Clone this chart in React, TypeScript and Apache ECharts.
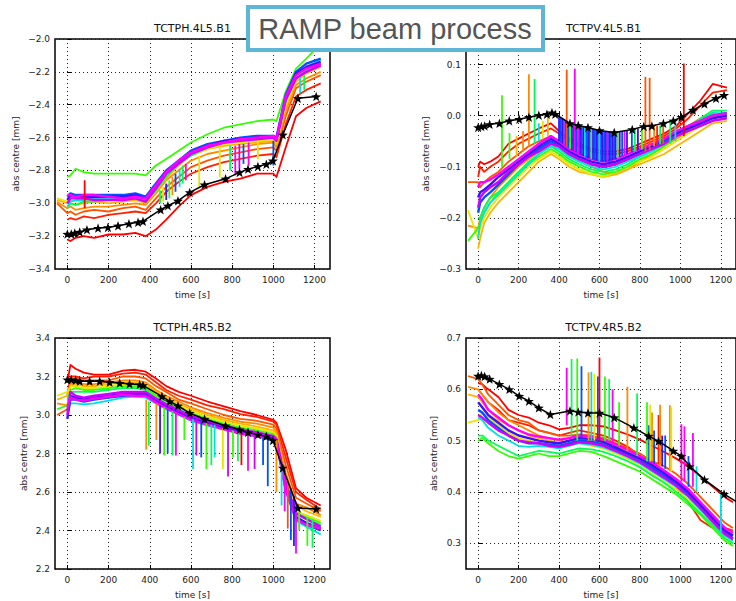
import React, { useEffect, useRef } from 'react';
import * as echarts from 'echarts';

// rainbow palette (red -> magenta), matplotlib gist_rainbow-like
const PALETTE = ['#ff0000', '#ff2200', '#ff5500', '#ff8c00', '#ffb400', '#e6e600', '#33ff00', '#00ff55', '#00e0e0', '#0050ff', '#3a10ff', '#d000ff', '#ff00ff'];

const X_TICKS = [0, 200, 400, 600, 800, 1000, 1200];

// ---------- TCTPH.4L5.B1 ----------
const TIME_H = [-50, 0, 15, 40, 80, 130, 200, 270, 330, 380, 430, 480, 540, 600, 680, 760, 840, 920, 1000, 1015, 1060, 1110, 1160, 1230];
const TL_SERIES: (number | null)[][] = [
  [null, -3.22, -3.23, -3.21, -3.2, -3.21, -3.19, -3.19, -3.18, -3.2, -3.16, -3.1, -3.02, -2.95, -2.9, -2.87, -2.85, -2.82, -2.82, -2.84, -2.66, -2.47, -2.42, -2.38],
  [null, -3.1, -3.09, -3.1, -3.08, -3.09, -3.07, -3.06, -3.05, -3.06, -3.0, -2.93, -2.87, -2.82, -2.78, -2.75, -2.73, -2.71, -2.7, -2.72, -2.52, -2.35, -2.31, -2.27],
  [-3.0, -3.06, -3.05, -3.07, -3.05, -3.04, -3.05, -3.03, -3.02, -3.04, -2.97, -2.9, -2.84, -2.78, -2.74, -2.71, -2.69, -2.67, -2.66, -2.68, -2.47, -2.3, -2.26, -2.22],
  [-2.99, -3.03, -3.02, -3.04, -3.03, -3.02, -3.02, -3.01, -3.0, -3.01, -2.94, -2.86, -2.8, -2.74, -2.7, -2.68, -2.66, -2.64, -2.63, -2.66, -2.44, -2.28, -2.24, -2.2],
  [-2.98, -3.0, -3.0, -3.01, -3.0, -2.99, -3.0, -2.99, -2.98, -3.0, -2.93, -2.85, -2.77, -2.71, -2.67, -2.65, -2.64, -2.63, -2.62, -2.64, -2.42, -2.26, -2.21, -2.17],
  [-2.97, -2.99, -2.98, -2.99, -2.98, -2.98, -2.98, -2.97, -2.97, -2.98, -2.91, -2.83, -2.76, -2.7, -2.67, -2.64, -2.63, -2.62, -2.61, -2.63, -2.4, -2.25, -2.2, -2.16],
  [null, -2.84, -2.83, -2.79, -2.81, -2.82, -2.82, -2.82, -2.82, -2.83, -2.77, -2.73, -2.68, -2.63, -2.58, -2.54, -2.52, -2.5, -2.49, -2.5, -2.32, -2.18, -2.12, -2.03],
  [null, -3.03, -3.0, -3.01, -2.99, -2.99, -2.98, -2.98, -2.97, -2.99, -2.92, -2.84, -2.76, -2.71, -2.66, -2.63, -2.62, -2.61, -2.6, -2.62, -2.38, -2.24, -2.19, -2.15],
  [null, -3.02, -2.99, -2.98, -2.98, -2.97, -2.97, -2.97, -2.96, -2.98, -2.9, -2.82, -2.75, -2.7, -2.66, -2.63, -2.61, -2.6, -2.6, -2.61, -2.36, -2.22, -2.17, -2.13],
  [null, -2.96, -2.94, -2.95, -2.95, -2.95, -2.95, -2.95, -2.94, -2.96, -2.88, -2.8, -2.74, -2.68, -2.64, -2.62, -2.6, -2.59, -2.59, -2.6, -2.34, -2.2, -2.15, -2.12],
  [null, -2.98, -2.95, -2.96, -2.96, -2.96, -2.96, -2.96, -2.95, -2.97, -2.89, -2.81, -2.75, -2.69, -2.65, -2.62, -2.61, -2.6, -2.6, -2.61, -2.36, -2.21, -2.17, -2.14],
  [null, -3.0, -2.97, -2.97, -2.97, -2.98, -2.98, -2.98, -2.97, -2.99, -2.91, -2.82, -2.76, -2.7, -2.66, -2.63, -2.62, -2.61, -2.6, -2.62, -2.37, -2.24, -2.2, -2.16],
  [null, -2.95, -2.95, -2.96, -2.95, -2.95, -2.96, -2.97, -2.96, -2.97, -2.89, -2.81, -2.74, -2.69, -2.65, -2.63, -2.61, -2.6, -2.59, -2.61, -2.35, -2.22, -2.18, -2.15],
];
const TL_BLACK_T = [0, 19, 36, 60, 95, 149, 197, 246, 299, 343, 367, 453, 488, 537, 594, 666, 768, 836, 877, 925, 966, 998, 1046, 1119, 1208];
const TL_BLACK_V = [-3.187, -3.187, -3.181, -3.175, -3.161, -3.151, -3.147, -3.137, -3.124, -3.116, -3.11, -3.039, -3.015, -2.985, -2.934, -2.887, -2.851, -2.812, -2.792, -2.776, -2.762, -2.741, -2.583, -2.361, -2.35];
// [time, from, to, colour index]
const TL_SPIKES = [
  [84, -3.03, -2.86, 0], [450, -2.92, -3.0, 7], [465, -2.9, -2.99, 5], [480, -2.88, -2.98, 10], [495, -2.86, -2.97, 6],
  [510, -2.84, -2.95, 3], [525, -2.82, -2.93, 9], [545, -2.79, -2.9, 8], [560, -2.77, -2.88, 7], [575, -2.76, -2.86, 12],
  [640, -2.71, -2.9, 5], [740, -2.66, -2.84, 5], [790, -2.65, -2.8, 7], [815, -2.65, -2.83, 12], [835, -2.64, -2.79, 11],
  [855, -2.64, -2.76, 9], [880, -2.63, -2.77, 12], [925, -2.62, -2.73, 5], [1000, -2.62, -2.77, 9], [1130, -2.23, -2.33, 8], [1150, -2.22, -2.31, 7],
];
const TL_YTICKS = [-3.4, -3.2, -3.0, -2.8, -2.6, -2.4, -2.2, -2.0];

// ---------- TCTPV.4L5.B1 ----------
const TIME_V1 = [-50, 0, 10, 30, 60, 100, 150, 200, 250, 300, 360, 400, 450, 500, 560, 620, 680, 740, 800, 860, 920, 980, 1040, 1100, 1160, 1230];
const TR_SERIES: (number | null)[][] = [
  [null, -0.1, -0.09, -0.095, -0.09, -0.08, -0.055, -0.045, -0.035, -0.025, -0.015, -0.03, -0.045, -0.055, -0.065, -0.07, -0.07, -0.065, -0.055, -0.045, -0.035, -0.02, 0.005, 0.03, 0.062, 0.055],
  [null, -0.12, -0.1, -0.11, -0.1, -0.09, -0.07, -0.055, -0.045, -0.035, -0.025, -0.035, -0.05, -0.06, -0.07, -0.075, -0.075, -0.07, -0.06, -0.05, -0.04, -0.025, -0.005, 0.02, 0.045, 0.05],
  [-0.13, -0.13, -0.14, -0.13, -0.12, -0.11, -0.09, -0.075, -0.06, -0.05, -0.04, -0.05, -0.065, -0.075, -0.085, -0.09, -0.09, -0.08, -0.07, -0.06, -0.05, -0.035, -0.02, -0.005, 0.005, 0.0],
  [-0.215, -0.22, -0.2, -0.18, -0.16, -0.14, -0.12, -0.1, -0.085, -0.07, -0.055, -0.065, -0.08, -0.09, -0.1, -0.11, -0.115, -0.105, -0.09, -0.075, -0.06, -0.045, -0.03, -0.015, 0.0, -0.005],
  [null, -0.26, -0.24, -0.21, -0.19, -0.17, -0.15, -0.13, -0.11, -0.09, -0.075, -0.085, -0.1, -0.11, -0.115, -0.12, -0.115, -0.105, -0.095, -0.085, -0.075, -0.06, -0.045, -0.03, -0.015, -0.01],
  [-0.185, -0.24, -0.22, -0.2, -0.18, -0.16, -0.14, -0.12, -0.1, -0.085, -0.07, -0.08, -0.095, -0.105, -0.115, -0.12, -0.11, -0.1, -0.09, -0.08, -0.065, -0.05, -0.035, -0.02, -0.005, 0.0],
  [-0.245, -0.22, -0.21, -0.19, -0.17, -0.15, -0.13, -0.11, -0.095, -0.08, -0.065, -0.075, -0.09, -0.1, -0.11, -0.115, -0.11, -0.1, -0.085, -0.075, -0.06, -0.04, -0.025, -0.01, 0.005, 0.0],
  [null, -0.2, -0.2, -0.18, -0.16, -0.15, -0.13, -0.11, -0.09, -0.075, -0.06, -0.07, -0.085, -0.095, -0.105, -0.11, -0.105, -0.095, -0.08, -0.07, -0.055, -0.04, -0.025, -0.005, 0.01, 0.01],
  [null, -0.24, -0.21, -0.19, -0.17, -0.155, -0.135, -0.115, -0.095, -0.075, -0.06, -0.065, -0.08, -0.09, -0.1, -0.105, -0.1, -0.09, -0.08, -0.07, -0.055, -0.04, -0.025, -0.01, 0.005, 0.005],
  [null, -0.19, -0.17, -0.16, -0.15, -0.135, -0.115, -0.095, -0.08, -0.065, -0.05, -0.06, -0.075, -0.085, -0.095, -0.1, -0.095, -0.085, -0.075, -0.065, -0.05, -0.035, -0.02, -0.01, 0.0, 0.005],
  [null, -0.16, -0.15, -0.145, -0.135, -0.12, -0.105, -0.09, -0.075, -0.06, -0.045, -0.055, -0.07, -0.08, -0.09, -0.095, -0.09, -0.08, -0.07, -0.06, -0.045, -0.035, -0.025, -0.015, -0.005, 0.0],
  [null, -0.18, -0.16, -0.15, -0.14, -0.13, -0.11, -0.095, -0.08, -0.07, -0.055, -0.06, -0.075, -0.085, -0.095, -0.1, -0.095, -0.085, -0.075, -0.065, -0.055, -0.04, -0.03, -0.02, -0.01, -0.005],
  [null, -0.14, -0.13, -0.13, -0.125, -0.115, -0.1, -0.085, -0.07, -0.055, -0.04, -0.05, -0.065, -0.075, -0.085, -0.09, -0.085, -0.075, -0.065, -0.055, -0.045, -0.03, -0.02, -0.01, 0.0, 0.005],
];
const TR_BLACK_T = [0, 16, 32, 57, 105, 154, 203, 251, 300, 340, 365, 381, 454, 495, 543, 600, 673, 762, 819, 859, 916, 965, 1005, 1062, 1119, 1176, 1216];
const TR_BLACK_V = [-0.023, -0.021, -0.02, -0.017, -0.015, -0.01, -0.007, -0.003, 0.001, 0.003, 0.006, 0.003, -0.015, -0.019, -0.023, -0.029, -0.033, -0.027, -0.021, -0.02, -0.015, -0.01, -0.003, 0.011, 0.023, 0.034, 0.04];
const TR_SPIKES = [
  [155, -0.085, -0.034, 6], [190, -0.08, -0.04, 4], [222, -0.07, -0.03, 3], [300, -0.05, -0.015, 8], [320, -0.045, -0.01, 5], [345, -0.04, 0.0, 4],
  [400, -0.05, 0.0, 10], [408, -0.052, -0.002, 9], [416, -0.054, -0.004, 10], [424, -0.056, -0.006, 12], [432, -0.058, -0.008, 9],
  [440, -0.06, -0.01, 10], [448, -0.063, -0.012, 9], [456, -0.065, -0.014, 6], [464, -0.067, -0.015, 10], [472, -0.069, -0.016, 9],
  [480, -0.071, -0.017, 10], [488, -0.072, -0.018, 9], [496, -0.074, -0.019, 12], [504, -0.076, -0.02, 10], [512, -0.078, -0.02, 9],
  [520, -0.079, -0.021, 10], [528, -0.08, -0.022, 8], [536, -0.082, -0.022, 9], [544, -0.083, -0.023, 10], [552, -0.084, -0.024, 9],
  [560, -0.085, -0.025, 6], [568, -0.086, -0.026, 10], [576, -0.087, -0.027, 9], [584, -0.088, -0.027, 10], [592, -0.089, -0.028, 9],
  [600, -0.09, -0.029, 8], [608, -0.09, -0.03, 9], [616, -0.09, -0.03, 10], [624, -0.09, -0.031, 9], [632, -0.09, -0.031, 10],
  [640, -0.09, -0.032, 12], [648, -0.089, -0.032, 10], [656, -0.088, -0.033, 9], [664, -0.087, -0.033, 10], [672, -0.086, -0.033, 9],
  [680, -0.085, -0.033, 10], [690, -0.083, -0.032, 6], [700, -0.081, -0.031, 10], [712, -0.079, -0.03, 9], [724, -0.077, -0.029, 12],
  [736, -0.075, -0.028, 10], [760, -0.072, -0.027, 9], [775, -0.07, -0.026, 7], [790, -0.068, -0.025, 10], [810, -0.066, -0.023, 6],
  [870, -0.06, -0.02, 3], [885, -0.058, -0.02, 1], [900, -0.056, -0.019, 7], [915, -0.055, -0.017, 2], [950, -0.055, -0.012, 7], [975, -0.05, -0.01, 8],
  [118, -0.1, 0.04, 6], [251, -0.06, 0.081, 3], [279, -0.055, 0.072, 7], [438, -0.06, 0.09, 2], [478, -0.07, 0.092, 12],
  [827, -0.07, 0.076, 2], [848, -0.068, 0.074, 2], [1017, -0.04, 0.102, 0],
];
const TR_YTICKS = [-0.3, -0.2, -0.1, 0.0, 0.1];

// ---------- TCTPH.4R5.B2 ----------
const BL_SERIES: (number | null)[][] = [
  [null, 3.17, 3.26, 3.24, 3.22, 3.21, 3.21, 3.23, 3.235, 3.225, 3.19, 3.15, 3.12, 3.1, 3.07, 3.045, 3.02, 3.0, 2.975, 2.96, 2.82, 2.62, 2.57, 2.53],
  [null, 3.1, 3.2, 3.2, 3.19, 3.2, 3.2, 3.215, 3.22, 3.21, 3.17, 3.13, 3.1, 3.08, 3.05, 3.03, 3.005, 2.99, 2.965, 2.95, 2.78, 2.6, 2.56, 2.51],
  [3.0, 3.03, 3.18, 3.19, 3.18, 3.18, 3.18, 3.2, 3.2, 3.19, 3.15, 3.12, 3.08, 3.06, 3.03, 3.0, 2.98, 2.97, 2.95, 2.93, 2.74, 2.57, 2.54, 2.5],
  [3.06, 3.05, 3.16, 3.17, 3.16, 3.16, 3.17, 3.18, 3.18, 3.17, 3.13, 3.1, 3.07, 3.04, 3.01, 2.985, 2.965, 2.955, 2.935, 2.91, 2.7, 2.54, 2.52, 2.48],
  [3.08, 3.1, 3.15, 3.16, 3.15, 3.15, 3.16, 3.17, 3.17, 3.16, 3.12, 3.09, 3.06, 3.03, 3.0, 2.975, 2.955, 2.94, 2.92, 2.9, 2.68, 2.53, 2.5, 2.47],
  [3.1, 3.12, 3.15, 3.15, 3.14, 3.14, 3.15, 3.16, 3.16, 3.15, 3.11, 3.08, 3.05, 3.02, 2.99, 2.965, 2.945, 2.93, 2.91, 2.89, 2.66, 2.5, 2.48, 2.45],
  [3.03, 3.05, 3.13, 3.14, 3.13, 3.13, 3.14, 3.15, 3.15, 3.14, 3.1, 3.07, 3.04, 3.01, 2.98, 2.955, 2.935, 2.92, 2.9, 2.88, 2.64, 2.49, 2.47, 2.44],
  [null, 3.08, 3.12, 3.12, 3.12, 3.12, 3.13, 3.14, 3.14, 3.13, 3.09, 3.06, 3.03, 3.0, 2.97, 2.945, 2.925, 2.91, 2.89, 2.87, 2.62, 2.48, 2.46, 2.43],
  [null, 3.0, 3.06, 3.06, 3.055, 3.06, 3.075, 3.09, 3.095, 3.09, 3.06, 3.03, 3.0, 2.97, 2.945, 2.925, 2.9, 2.89, 2.87, 2.855, 2.6, 2.45, 2.42, 2.38],
  [null, 3.02, 3.08, 3.08, 3.07, 3.08, 3.09, 3.1, 3.105, 3.1, 3.07, 3.04, 3.01, 2.98, 2.955, 2.93, 2.91, 2.895, 2.875, 2.86, 2.62, 2.46, 2.43, 2.4],
  [null, 2.98, 3.1, 3.09, 3.08, 3.09, 3.1, 3.11, 3.11, 3.11, 3.075, 3.045, 3.015, 2.985, 2.96, 2.935, 2.915, 2.9, 2.88, 2.865, 2.63, 2.47, 2.44, 2.41],
  [null, 3.0, 3.12, 3.1, 3.09, 3.1, 3.11, 3.12, 3.12, 3.12, 3.085, 3.055, 3.025, 2.995, 2.97, 2.945, 2.925, 2.91, 2.89, 2.875, 2.65, 2.49, 2.46, 2.42],
  [null, 3.04, 3.09, 3.08, 3.075, 3.085, 3.095, 3.105, 3.1, 3.1, 3.065, 3.035, 3.005, 2.975, 2.95, 2.925, 2.905, 2.89, 2.87, 2.86, 2.61, 2.46, 2.43, 2.41],
];
const BL_BLACK_T = [0, 19, 40, 60, 108, 157, 205, 254, 302, 351, 367, 459, 497, 537, 594, 666, 768, 836, 877, 925, 966, 998, 1046, 1119, 1208];
const BL_BLACK_V = [3.184, 3.184, 3.18, 3.175, 3.175, 3.175, 3.17, 3.166, 3.161, 3.158, 3.154, 3.097, 3.071, 3.048, 3.01, 2.979, 2.944, 2.924, 2.91, 2.898, 2.889, 2.868, 2.725, 2.517, 2.512];
const BL_SPIKES = [
  [383, 3.08, 2.82, 3], [395, 3.07, 2.84, 7], [432, 3.06, 2.87, 3], [450, 3.05, 2.8, 10], [470, 3.04, 2.79, 6],
  [487, 3.03, 2.8, 9], [510, 3.02, 2.79, 7], [527, 3.01, 2.79, 12], [568, 2.99, 2.87, 6], [610, 2.98, 2.72, 8],
  [626, 2.98, 2.79, 11], [650, 2.97, 2.78, 9], [675, 2.96, 2.72, 6], [699, 2.95, 2.74, 7], [715, 2.95, 2.78, 8],
  [755, 2.93, 2.72, 5], [780, 2.92, 2.68, 11], [804, 2.92, 2.78, 6], [828, 2.91, 2.76, 7], [845, 2.91, 2.74, 0],
  [877, 2.9, 2.71, 12], [909, 2.89, 2.72, 11], [950, 2.88, 2.74, 9], [973, 2.88, 2.63, 9], [1015, 2.87, 2.6, 3],
  [1040, 2.75, 2.53, 8], [1055, 2.7, 2.5, 12], [1070, 2.66, 2.41, 2], [1085, 2.62, 2.35, 9], [1100, 2.58, 2.32, 10],
  [1110, 2.55, 2.28, 12], [1125, 2.5, 2.4, 6], [1165, 2.47, 2.32, 6], [1190, 2.46, 2.31, 7],
];
const BL_YTICKS = [2.2, 2.4, 2.6, 2.8, 3.0, 3.2, 3.4];

// ---------- TCTPV.4R5.B2 ----------
const TIME_V2 = [-50, 0, 20, 50, 100, 150, 200, 250, 300, 350, 400, 450, 500, 560, 620, 680, 740, 800, 860, 920, 980, 1040, 1100, 1160, 1220, 1260];
const BR_SERIES: (number | null)[][] = [
  [null, 0.612, 0.61, 0.6, 0.585, 0.56, 0.55, 0.545, 0.535, 0.53, 0.522, 0.525, 0.53, 0.53, 0.528, 0.52, 0.512, 0.502, 0.49, 0.478, 0.465, 0.45, 0.43, 0.41, 0.39, 0.38],
  [null, 0.6, 0.59, 0.575, 0.56, 0.54, 0.535, 0.53, 0.52, 0.515, 0.51, 0.515, 0.52, 0.515, 0.51, 0.5, 0.488, 0.47, 0.455, 0.44, 0.41, 0.38, 0.345, 0.33, 0.33, 0.325],
  [0.626, 0.62, 0.61, 0.59, 0.57, 0.55, 0.54, 0.535, 0.52, 0.515, 0.51, 0.51, 0.512, 0.51, 0.505, 0.495, 0.485, 0.475, 0.46, 0.45, 0.435, 0.415, 0.39, 0.365, 0.34, 0.33],
  [0.605, 0.6, 0.59, 0.575, 0.555, 0.54, 0.53, 0.52, 0.51, 0.505, 0.5, 0.505, 0.508, 0.505, 0.5, 0.49, 0.48, 0.465, 0.45, 0.44, 0.425, 0.4, 0.375, 0.35, 0.325, 0.315],
  [0.59, 0.585, 0.575, 0.56, 0.54, 0.53, 0.52, 0.51, 0.505, 0.5, 0.495, 0.5, 0.502, 0.5, 0.495, 0.485, 0.475, 0.46, 0.445, 0.43, 0.415, 0.395, 0.37, 0.345, 0.32, 0.31],
  [0.535, 0.54, 0.555, 0.545, 0.53, 0.515, 0.505, 0.5, 0.495, 0.49, 0.488, 0.49, 0.495, 0.49, 0.485, 0.475, 0.465, 0.45, 0.435, 0.42, 0.405, 0.385, 0.36, 0.335, 0.31, 0.3],
  [null, 0.5, 0.505, 0.495, 0.48, 0.47, 0.465, 0.47, 0.475, 0.47, 0.47, 0.475, 0.48, 0.478, 0.47, 0.46, 0.45, 0.44, 0.425, 0.41, 0.395, 0.375, 0.355, 0.33, 0.305, 0.295],
  [null, 0.51, 0.51, 0.5, 0.49, 0.48, 0.47, 0.475, 0.48, 0.478, 0.475, 0.48, 0.485, 0.483, 0.478, 0.47, 0.46, 0.448, 0.432, 0.418, 0.4, 0.38, 0.358, 0.335, 0.31, 0.3],
  [null, 0.545, 0.54, 0.525, 0.51, 0.5, 0.49, 0.488, 0.49, 0.488, 0.485, 0.49, 0.495, 0.492, 0.487, 0.478, 0.468, 0.455, 0.44, 0.425, 0.41, 0.39, 0.365, 0.34, 0.315, 0.305],
  [null, 0.56, 0.555, 0.54, 0.525, 0.51, 0.5, 0.495, 0.495, 0.492, 0.49, 0.495, 0.5, 0.498, 0.492, 0.483, 0.472, 0.46, 0.447, 0.432, 0.415, 0.395, 0.37, 0.345, 0.32, 0.31],
  [null, 0.575, 0.565, 0.55, 0.535, 0.52, 0.51, 0.505, 0.5, 0.497, 0.495, 0.5, 0.505, 0.503, 0.497, 0.487, 0.476, 0.465, 0.452, 0.437, 0.42, 0.4, 0.375, 0.35, 0.325, 0.315],
  [null, 0.55, 0.545, 0.535, 0.52, 0.51, 0.5, 0.497, 0.495, 0.49, 0.488, 0.492, 0.497, 0.495, 0.49, 0.48, 0.47, 0.458, 0.443, 0.428, 0.412, 0.392, 0.368, 0.342, 0.318, 0.308],
  [null, 0.59, 0.58, 0.56, 0.545, 0.53, 0.52, 0.512, 0.508, 0.505, 0.502, 0.505, 0.51, 0.508, 0.502, 0.493, 0.482, 0.47, 0.458, 0.442, 0.425, 0.405, 0.38, 0.355, 0.33, 0.32],
];
const BR_BLACK_T = [0, 16, 32, 57, 105, 154, 203, 251, 300, 357, 454, 495, 543, 600, 673, 770, 843, 892, 965, 1005, 1046, 1119, 1216, 1290];
const BR_BLACK_V = [0.626, 0.627, 0.625, 0.62, 0.61, 0.6, 0.587, 0.577, 0.564, 0.551, 0.558, 0.556, 0.554, 0.554, 0.545, 0.525, 0.509, 0.499, 0.48, 0.47, 0.45, 0.424, 0.396, 0.378];
const BR_SPIKES = [
  [438, 0.53, 0.642, 12], [462, 0.51, 0.659, 7], [490, 0.5, 0.66, 6], [511, 0.5, 0.645, 9], [546, 0.5, 0.633, 3],
  [560, 0.5, 0.634, 8], [575, 0.5, 0.63, 5], [592, 0.5, 0.625, 9], [600, 0.5, 0.662, 0], [627, 0.5, 0.625, 6],
  [648, 0.5, 0.62, 7], [665, 0.49, 0.6, 12], [697, 0.49, 0.575, 6], [738, 0.48, 0.605, 3], [786, 0.47, 0.592, 7],
  [835, 0.46, 0.575, 6], [845, 0.46, 0.53, 9], [851, 0.46, 0.57, 5], [860, 0.46, 0.555, 3], [870, 0.455, 0.52, 9],
  [892, 0.455, 0.55, 1], [900, 0.45, 0.57, 3], [910, 0.45, 0.51, 10], [925, 0.445, 0.51, 9], [948, 0.44, 0.569, 3],
  [955, 0.44, 0.565, 5], [1005, 0.42, 0.532, 12], [1020, 0.42, 0.528, 12], [1040, 0.41, 0.47, 9], [1062, 0.41, 0.515, 12],
  [1080, 0.4, 0.45, 8], [1200, 0.32, 0.398, 8],
];
const BR_YTICKS = [0.3, 0.4, 0.5, 0.6, 0.7];

const STAR = 'path://M0,-10 L2.35,-3.24 L9.51,-3.09 L3.8,1.24 L5.88,8.09 L0,4 L-5.88,8.09 L-3.8,1.24 L-9.51,-3.09 L-2.35,-3.24 Z';
const FONT = 'DejaVu Sans';

export default function App() {
  const ref = useRef<HTMLDivElement>(null);
  useEffect(() => {
    if (!ref.current) return;
    const chart = echarts.init(ref.current, null, { renderer: 'svg' });
    const panels = [
      { title: 'TCTPH.4L5.B1', t: TIME_H, s: TL_SERIES, bt: TL_BLACK_T, bv: TL_BLACK_V, sp: TL_SPIKES, ymin: -3.4, ymax: -2.0, yt: TL_YTICKS, gap: 35, grid: { left: 55, top: 39, width: 275, height: 230 } },
      { title: 'TCTPV.4L5.B1', t: TIME_V1, s: TR_SERIES, bt: TR_BLACK_T, bv: TR_BLACK_V, sp: TR_SPIKES, ymin: -0.3, ymax: 0.15, yt: TR_YTICKS, gap: 36, grid: { left: 466, top: 39, width: 275, height: 230 } },
      { title: 'TCTPH.4R5.B2', t: TIME_H, s: BL_SERIES, bt: BL_BLACK_T, bv: BL_BLACK_V, sp: BL_SPIKES, ymin: 2.2, ymax: 3.4, yt: BL_YTICKS, gap: 27, grid: { left: 55, top: 338, width: 275, height: 231 } },
      { title: 'TCTPV.4R5.B2', t: TIME_V2, s: BR_SERIES, bt: BR_BLACK_T, bv: BR_BLACK_V, sp: BR_SPIKES, ymin: 0.25, ymax: 0.7, yt: BR_YTICKS, gap: 28, grid: { left: 466, top: 338, width: 275, height: 231 } },
    ];
    const fmt = (v: number) => v.toFixed(1).replace('-', '\u2212');
    const series: any[] = [];
    panels.forEach((p, i) => {
      p.s.forEach((vals, k) => {
        const data: number[][] = [];
        vals.forEach((v, j) => { if (v !== null) data.push([p.t[j], v]); });
        series.push({
          type: 'line', xAxisIndex: i, yAxisIndex: i, data, symbol: 'none', silent: true, z: 2,
          lineStyle: { width: k >= 9 ? 2.4 : 1.8, color: PALETTE[k], join: 'round' }, itemStyle: { color: PALETTE[k] },
        });
      });
      series.push({
        type: 'custom', xAxisIndex: i, yAxisIndex: i, data: p.sp, silent: true, z: 3,
        encode: { x: 0, y: [1, 2] },
        renderItem: (params: any, api: any) => {
          const a = api.coord([api.value(0), api.value(1)]);
          const b = api.coord([api.value(0), api.value(2)]);
          return { type: 'line', shape: { x1: a[0], y1: a[1], x2: b[0], y2: b[1] }, style: { stroke: PALETTE[api.value(3)], lineWidth: 1.8 } };
        },
      });
      series.push({
        type: 'line', xAxisIndex: i, yAxisIndex: i, data: p.bt.map((t, j) => [t, p.bv[j]]), silent: true, z: 5,
        symbol: STAR, symbolSize: 10, symbolKeepAspect: true,
        lineStyle: { width: 1.5, color: '#000' }, itemStyle: { color: '#000' },
      });
    });
    const splitLine = { show: true, lineStyle: { color: '#222', width: 1, type: [1, 3] } };
    const axisLabel = { color: '#222', fontSize: 9, fontFamily: FONT };
    const nameStyle = { color: '#222', fontSize: 9, fontFamily: FONT };
    const graphic: any[] = panels.map((p) => ({
      type: 'text', z: 50,
      style: { text: p.title, x: p.grid.left + p.grid.width / 2, y: p.grid.top - 11, align: 'center', verticalAlign: 'middle', fontSize: 11, fontFamily: FONT, fill: '#111' },
    }));
    graphic.push({ type: 'rect', z: 100, shape: { x: 248, y: 7, width: 295, height: 43 }, style: { fill: '#fff', stroke: '#5db6d6', lineWidth: 4 } });
    graphic.push({ type: 'text', z: 101, style: { text: 'RAMP beam process', x: 395, y: 29, align: 'center', verticalAlign: 'middle', fontSize: 29, fontFamily: 'Liberation Sans', fill: '#555' } });

    chart.setOption({
      animation: false,
      backgroundColor: '#fff',
      grid: panels.map((p) => ({ ...p.grid, show: true, borderColor: '#000', borderWidth: 1.5, backgroundColor: 'transparent' })),
      xAxis: panels.map((p, i) => ({
        type: 'value', gridIndex: i, min: -60, max: 1275,
        name: 'time [s]', nameLocation: 'middle', nameGap: 21, nameTextStyle: nameStyle,
        axisLine: { show: false },
        axisTick: { show: true, inside: true, length: 4, customValues: X_TICKS, lineStyle: { color: '#000' } },
        axisLabel: { ...axisLabel, margin: 6, customValues: X_TICKS, formatter: (v: number) => String(v) },
        splitLine,
      })),
      yAxis: panels.map((p, i) => ({
        type: 'value', gridIndex: i, min: p.ymin, max: p.ymax,
        name: 'abs centre [mm]', nameLocation: 'middle', nameRotate: 90, nameGap: p.gap, nameTextStyle: nameStyle,
        axisLine: { show: false },
        axisTick: { show: true, inside: true, length: 4, customValues: p.yt, lineStyle: { color: '#000' } },
        axisLabel: { ...axisLabel, margin: 5, customValues: p.yt, formatter: fmt },
        splitLine,
      })),
      series,
      graphic,
    });
    return () => chart.dispose();
  }, []);
  return <div ref={ref} style={{ position: 'fixed', left: 0, top: 0, width: 736, height: 601, background: '#fff' }} />;
}
